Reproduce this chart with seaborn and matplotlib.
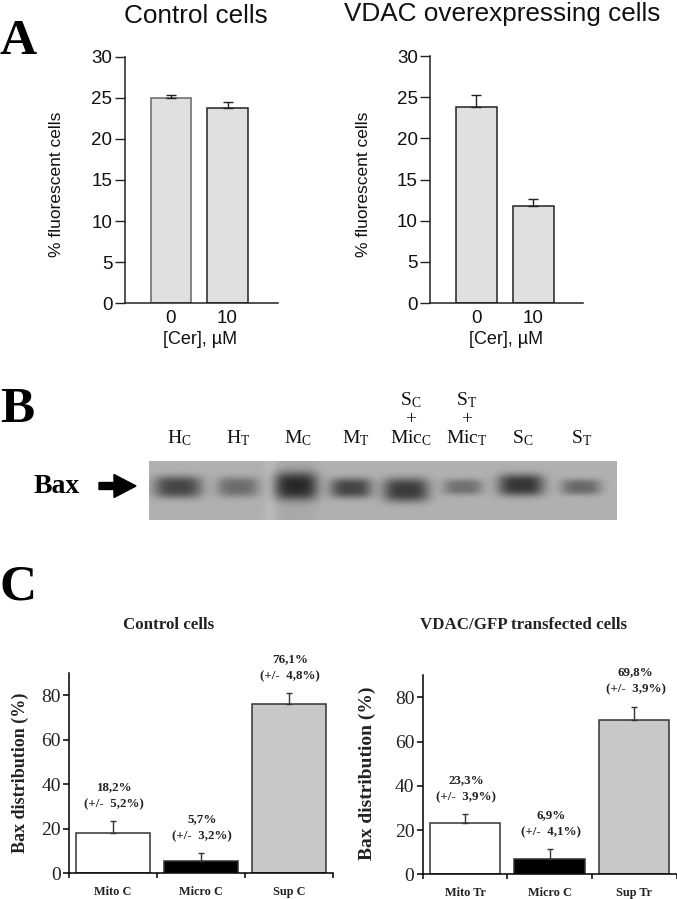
import numpy as np
import pandas as pd
import matplotlib
matplotlib.use("Agg")
import matplotlib.pyplot as plt
from matplotlib.patches import FancyArrow
import seaborn as sns

W, H = 677, 899

# panel A
cer_doses = ["0", "10"]
ctrl_pct = [25.0, 23.8]
ctrl_err = [0.4, 0.7]
vdac_pct = [23.8, 11.8]
vdac_err = [1.5, 0.8]

# panel B
lane_labels = ["$\\mathrm{H_C}$", "$\\mathrm{H_T}$", "$\\mathrm{M_C}$", "$\\mathrm{M_T}$",
               "$\\mathrm{Mic_C}$", "$\\mathrm{Mic_T}$", "$\\mathrm{S_C}$", "$\\mathrm{S_T}$"]
lane_x = [179, 238, 298, 356, 411, 467, 523, 582]
band_x = [178, 238, 296, 351, 406, 463, 521, 581]
band_halfw = [24, 21, 22, 21, 23, 20, 23, 20]
band_y = [487, 487, 486, 488, 490, 487, 485, 487]
band_halfh = [11, 10, 14, 10, 12, 8, 11, 8]
band_dark = [0.42, 0.27, 0.50, 0.42, 0.46, 0.25, 0.48, 0.28]

# panel C
ctrl_groups = ["Mito C", "Micro C", "Sup C"]
ctrl_dist = [18.2, 5.7, 76.1]
ctrl_dist_err = [5.2, 3.2, 4.8]
ctrl_notes = ["18,2%\n(+/-  5,2%)", "5,7%\n(+/-  3,2%)", "76,1%\n(+/-  4,8%)"]
vdac_groups = ["Mito Tr", "Micro C", "Sup Tr"]
vdac_dist = [23.3, 6.9, 69.8]
vdac_dist_err = [3.8, 4.4, 6.0]
vdac_notes = ["23,3%\n(+/-  3,9%)", "6,9%\n(+/-  4,1%)", "69,8%\n(+/-  3,9%)"]
dist_colors = ["white", "black", "#c8c8c8"]

sns.set_style("ticks")
plt.rcParams["font.family"] = "Liberation Sans"
plt.rcParams["mathtext.fontset"] = "custom"
plt.rcParams["mathtext.rm"] = "Liberation Serif"

fig = plt.figure(figsize=(W / 100, H / 100), dpi=100)
INK = "#222222"
SERIF = "Liberation Serif"


def px_axes(left, right, top, bottom):
    return fig.add_axes([left / W, 1 - bottom / H, (right - left) / W, (bottom - top) / H])


def draw_cer(ax, box, pct, err, c0, step, title, title_xy, ylab_x, xlab_x, edges):
    left, right, top, bottom = box
    df = pd.DataFrame({"dose": cer_doses, "pct": pct})
    sns.barplot(data=df, x="dose", y="pct", color="#e0e0e0", width=0.72, saturation=1, ax=ax)
    for bar, ec in zip(ax.patches, edges):
        bar.set_edgecolor(ec)
        bar.set_linewidth(1.1)
    ax.errorbar(range(2), pct, yerr=[[0, 0], err], fmt="none", ecolor=INK, elinewidth=1, capsize=3.8, capthick=1)
    ax.set_xlim(-(c0 - left) / step, (right - c0) / step)
    ax.set_ylim(0, 30)
    ax.set_yticks(range(0, 31, 5))
    ax.tick_params(axis="y", length=7, width=1, color=INK, labelsize=13.5, labelcolor="#111111", pad=2)
    ax.tick_params(axis="x", length=0, labelsize=13.5, labelcolor="#111111", pad=5)
    sns.despine(ax=ax)
    for s in ["left", "bottom"]:
        ax.spines[s].set_color(INK)
        ax.spines[s].set_linewidth(1.1)
    ax.set_ylabel("% fluorescent cells", fontsize=12.5, color="#111111")
    ax.yaxis.set_label_coords((ylab_x - left) / (right - left), (bottom - 184) / (bottom - top))
    ax.set_xlabel("[Cer], µM", fontsize=13, color="#111111")
    ax.xaxis.set_label_coords((xlab_x - left) / (right - left), (bottom - 331) / (bottom - top))
    ax.text((title_xy[0] - left) / (right - left), (bottom - title_xy[1]) / (bottom - top), title,
            transform=ax.transAxes, ha="center", va="baseline", fontsize=18.8, color="#111111")


def draw_dist(ax, box, groups, dist, err, notes, title, title_x, ylab_x, ylab_size):
    left, right, top, bottom = box
    df = pd.DataFrame({"group": groups, "dist": dist})
    sns.barplot(data=df, x="group", y="dist", hue="group", palette=dict(zip(groups, dist_colors)),
                dodge=False, legend=False, width=0.83, saturation=1, ax=ax)
    for bar in ax.patches:
        bar.set_edgecolor("#333333")
        bar.set_linewidth(1.1)
    ax.errorbar(range(3), dist, yerr=[[0, 0, 0], err], fmt="none", ecolor="#333333", elinewidth=1, capsize=2, capthick=1)
    for i, note in enumerate(notes):
        ax.annotate(note, (i, dist[i] + err[i]), xytext=(1, 8), textcoords="offset points",
                    ha="center", va="bottom", fontsize=9.4, family=SERIF, weight="bold",
                    color="#222222", linespacing=1.55)
    ax.set_xlim(-0.5, 2.5)
    ax.set_ylim(0, 90)
    ax.set_yticks(range(0, 81, 20))
    ax.set_xticks([-0.5, 0.5, 1.5, 2.5], minor=True)
    ax.tick_params(axis="x", which="minor", length=3.5, width=1.1, color="black")
    ax.tick_params(axis="x", which="major", length=0, pad=9)
    ax.tick_params(axis="y", length=4, width=1.1, color="black", pad=2)
    for t in ax.get_xticklabels():
        t.set(fontsize=8.8, family=SERIF, weight="bold", color="#222222")
    for t in ax.get_yticklabels():
        t.set(fontsize=14, family=SERIF, color="#222222")
    sns.despine(ax=ax)
    for s in ["left", "bottom"]:
        ax.spines[s].set_color("black")
        ax.spines[s].set_linewidth(1.1)
    ax.set_ylabel("Bax distribution (%)", fontsize=ylab_size, family=SERIF, weight="bold", color="#222222")
    ax.yaxis.set_label_coords((ylab_x - left) / (right - left), (bottom - 773) / (bottom - top))
    ax.set_xlabel("")
    ax.text((title_x - left) / (right - left), (bottom - 629) / (bottom - top), title, transform=ax.transAxes,
            ha="center", va="baseline", fontsize=12.2, family=SERIF, weight="bold", color="#222222")


# panel A
box = (125, 278, 56.7, 303.3)
draw_cer(px_axes(*box), box, ctrl_pct, ctrl_err, 171, 56.5, "Control cells", (196, 23), 64, 200, ["#666666", "#222222"])
box = (430.3, 582.7, 56, 303)
draw_cer(px_axes(*box), box, vdac_pct, vdac_err, 476.2, 57, "VDAC overexpressing cells", (502, 21), 371, 505.7,
         ["#222222", "#222222"])

# panel B, gel drawn from the band lists
gel_left, gel_right, gel_top, gel_bottom = 149, 617, 461, 520
gx, gy = np.meshgrid(np.arange(gel_left, gel_right) + 0.5, np.arange(gel_top, gel_bottom) + 0.5)
gel = np.full(gx.shape, 0.69)
gel += 0.04 * np.exp(-((gx - 270) / 6) ** 2)
gel -= 0.03 * np.exp(-((gx - 297) / 20) ** 4)
for cx, hw, cy, hh, dark in zip(band_x, band_halfw, band_y, band_halfh, band_dark):
    gel -= dark * np.exp(-(np.abs(gx - cx) / hw) ** 3.5) * np.exp(-(np.abs(gy - cy) / hh) ** 3)
ax_gel = px_axes(gel_left, gel_right, gel_top, gel_bottom)
ax_gel.imshow(gel, cmap="gray", vmin=0, vmax=1, aspect="auto", interpolation="bilinear")
ax_gel.axis("off")

# panel C
box = (69, 333, 673, 873.3)
draw_dist(px_axes(*box), box, ctrl_groups, ctrl_dist, ctrl_dist_err, ctrl_notes, "Control cells", 169, 29, 13)
box = (422.7, 676.5, 675.2, 874.3)
draw_dist(px_axes(*box), box, vdac_groups, vdac_dist, vdac_dist_err, vdac_notes, "VDAC/GFP transfected cells", 524, 376, 14)

# overlay in pixel coords for the letters and the gel labels
over = fig.add_axes([0, 0, 1, 1], zorder=5)
over.set_xlim(0, W)
over.set_ylim(H, 0)
over.axis("off")
for letter, y in zip("ABC", [54, 422, 600]):
    over.text(0, y, letter, fontsize=37, family=SERIF, weight="bold", color="black", va="baseline", ha="left")
for x, lab in zip(lane_x, lane_labels):
    over.text(x, 443, lab, fontsize=14, ha="center", va="baseline", color="#111111")
for x, top_lab in zip([411, 467], ["$\\mathrm{S_C}$", "$\\mathrm{S_T}$"]):
    over.text(x, 405, top_lab, fontsize=14, ha="center", va="baseline", color="#111111")
    over.text(x, 424, "+", fontsize=14, family=SERIF, ha="center", va="baseline", color="#111111")
over.text(34, 493, "Bax", fontsize=20, family=SERIF, weight="bold", color="black", va="baseline")
over.add_patch(FancyArrow(99, 486, 37, 0, width=7, head_width=23, head_length=22,
                          length_includes_head=True, color="black"))

fig.savefig("out.png", dpi=100)
